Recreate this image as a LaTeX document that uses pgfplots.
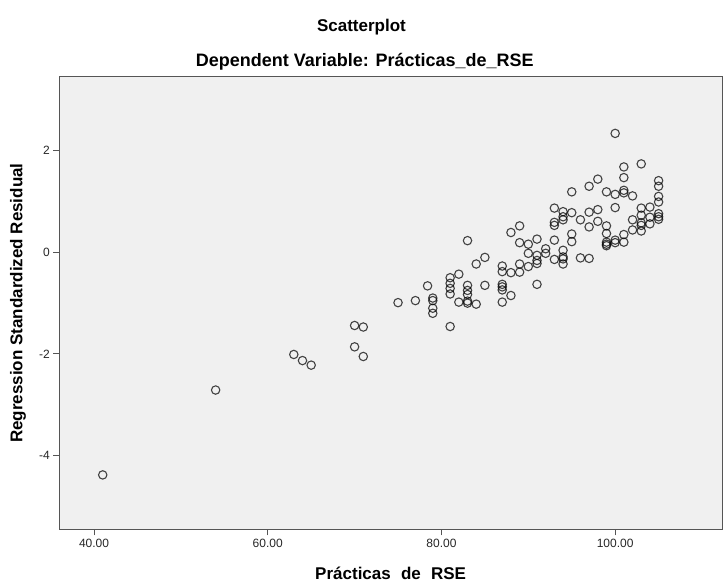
\documentclass[border=0pt]{standalone}
\usepackage{pgfplots}
\pgfplotsset{compat=1.18}
\usepackage{fontspec}
\setmainfont{Liberation Sans}
\definecolor{bgc}{HTML}{F0F0F0}
\definecolor{axc}{HTML}{555555}

\pgfplotstableread{
x y
41 -4.38
54 -2.71
63 -2.01
64 -2.13
65 -2.22
70 -1.44
71 -1.47
70 -1.86
71 -2.05
75 -0.99
77 -0.95
78.4 -0.66
79 -0.90
79 -0.95
79 -1.10
79 -1.20
81 -1.46
81 -0.50
81 -0.61
81 -0.71
81 -0.82
82 -0.43
82 -0.98
83 0.23
83 -0.65
83 -0.75
83 -0.83
83 -0.96
83 -1.00
84 -0.23
84 -1.02
85 -0.10
85 -0.65
87 -0.27
87 -0.38
87 -0.63
87 -0.68
87 -0.74
87 -0.98
88 0.39
88 -0.40
88 -0.85
89 0.52
89 0.19
89 -0.23
89 -0.39
90 0.16
90 -0.02
90 -0.28
91 0.26
91 -0.06
91 -0.16
91 -0.22
91 -0.63
92 0.07
92 -0.02
93 0.87
93 0.59
93 0.53
93 0.24
93 -0.14
94 0.80
94 0.70
94 0.64
94 0.04
94 -0.09
94 -0.13
94 -0.23
95 1.19
95 0.78
95 0.36
95 0.21
96 0.64
96 -0.11
97 1.30
97 0.79
97 0.50
97 -0.12
98 1.44
98 0.84
98 0.61
99 1.19
99 0.52
99 0.37
99 0.20
99 0.16
99 0.13
100 2.34
100 1.14
100 0.88
100 0.24
100 0.19
101 1.68
101 1.47
101 1.22
101 1.17
101 0.35
101 0.20
102 1.11
102 0.64
102 0.44
103 1.74
103 0.87
103 0.73
103 0.58
103 0.53
103 0.42
104 0.89
104 0.69
104 0.56
105 1.41
105 1.30
105 1.10
105 0.99
105 0.76
105 0.70
105 0.65
}\resid

\begin{document}
\begin{tikzpicture}
\begin{axis}[
  scale only axis,
  width=662.7pt, height=452.3pt,
  xmin=36.0, xmax=112.3,
  ymin=-5.45, ymax=3.45,
  axis background/.style={fill=bgc},
  axis line style={axc, line width=1pt},
  xtick={40,60,80,100},
  ytick={-4,-2,0,2},
  xticklabel style={/pgf/number format/.cd, fixed, fixed zerofill, precision=2},
  yticklabel style={/pgf/number format/.cd, fixed, precision=0},
  /pgf/number format/assume math mode=true,
  ticklabel style={font=\fontsize{12}{14}\selectfont, text=black!85},
  tick align=outside,
  major tick length=6pt,
  tick style={axc, line width=1pt},
  xtick pos=bottom, ytick pos=left,
  xlabel={Prácticas\hspace{0.6em}de\hspace{0.6em}RSE},
  ylabel={Regression Standardized Residual},
  label style={font=\bfseries\fontsize{17}{20}\selectfont},
  xlabel style={at={(axis description cs:0.5,-0.0967)}, anchor=center},
  ylabel style={at={(axis description cs:-0.0623,0.5)}, anchor=center},
  clip=false,
]
\addplot[only marks, mark=o, mark size=4.2pt,
  mark options={draw=black, line width=1.1pt, draw opacity=0.72}]
  table[x=x, y=y] {\resid};
\node[font=\bfseries\fontsize{17}{20}\selectfont] at (axis description cs:0.456,1.1106) {Scatterplot};
\node[font=\bfseries\fontsize{18}{21}\selectfont] at (axis description cs:0.461,1.033) {Dependent Variable: Prácticas\_de\_RSE};
\end{axis}
\pgfresetboundingbox
\path[use as bounding box] ([xshift=-59.3pt,yshift=-53.7pt]current axis.south west) rectangle ([xshift=4pt,yshift=77pt]current axis.north east);
\end{tikzpicture}
\end{document}
